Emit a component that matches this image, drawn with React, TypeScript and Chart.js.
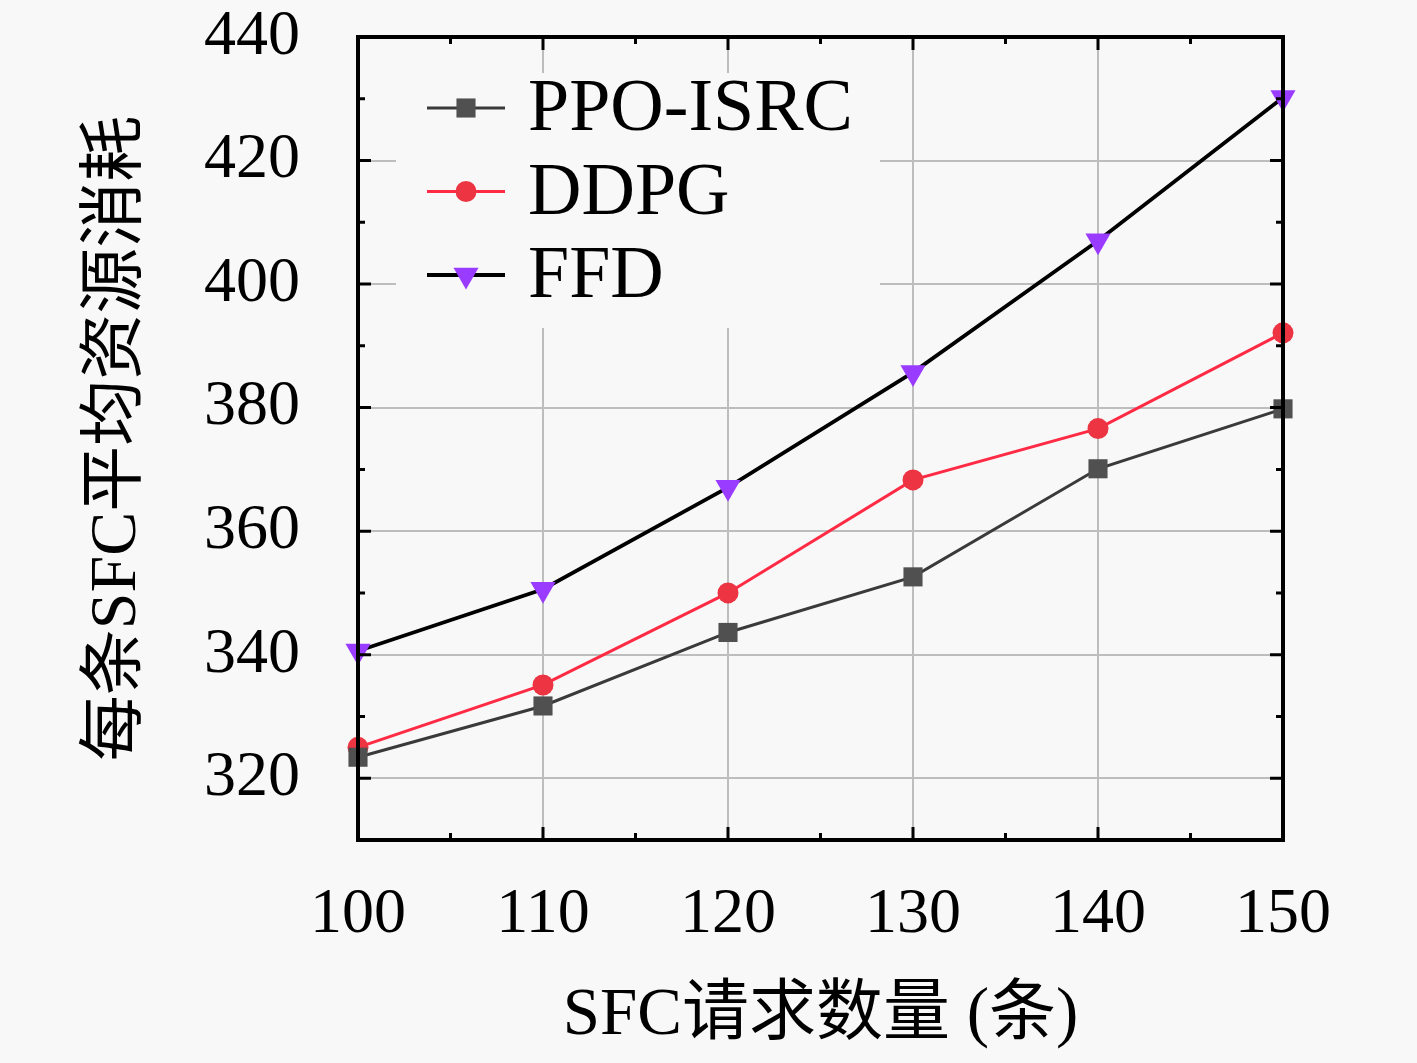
import React, { useEffect, useRef } from "react";
import { Chart, registerables } from "chart.js";

Chart.register(...registerables);

const categories = [100, 110, 120, 130, 140, 150];
const ppoIsrc = [323.4, 331.7, 343.6, 352.6, 370.1, 379.8];
const ddpg = [325.0, 335.1, 350.0, 368.3, 376.6, 392.1];
const ffd = [340.6, 350.6, 367.1, 385.7, 407.0, 430.2];
const yTickValues = [320, 340, 360, 380, 400, 420, 440];
const xTickValues = [100, 110, 120, 130, 140, 150];
const seriesNames = ["PPO-ISRC", "DDPG", "FFD"];

const BG = "#f8f8f8";
const SERIF = '"Liberation Serif", "Noto Sans CJK SC", serif';

type Style = { line: string; marker: string; shape: "rect" | "circle" | "triDown"; lw: number; r: number };
const styles: Style[] = [
  { line: "#3a3a3a", marker: "#505050", shape: "rect", lw: 3, r: 13.5 },
  { line: "#ff2a44", marker: "#ec3442", shape: "circle", lw: 3, r: 10.5 },
  { line: "#000000", marker: "#9a3cff", shape: "triDown", lw: 3.8, r: 14.5 },
];

function drawMarker(ctx: CanvasRenderingContext2D, s: Style, x: number, y: number) {
  ctx.save();
  ctx.fillStyle = s.marker;
  ctx.beginPath();
  if (s.shape === "rect") {
    const h = s.r * Math.SQRT1_2;
    ctx.rect(x - h, y - h, 2 * h, 2 * h);
  } else if (s.shape === "circle") {
    ctx.arc(x, y, s.r, 0, Math.PI * 2);
  } else {
    const w = s.r * Math.sqrt(3) / 2;
    ctx.moveTo(x - w, y - s.r / 2);
    ctx.lineTo(x + w, y - s.r / 2);
    ctx.lineTo(x, y + s.r);
    ctx.closePath();
  }
  ctx.fill();
  ctx.restore();
}

const framePlugin = {
  id: "frameTicksLegend",
  afterDatasetsDraw(chart: any) {
    const ctx: CanvasRenderingContext2D = chart.ctx;
    const { left, right, top, bottom } = chart.chartArea;
    const xs = chart.scales.x;
    const ys = chart.scales.y;
    ctx.save();
    ctx.strokeStyle = "#000";
    ctx.lineWidth = 3;
    const major = 13;
    const minor = 7;
    for (let i = 0; i < xTickValues.length; i++) {
      const v = xTickValues[i];
      const px = xs.getPixelForValue(v);
      ctx.beginPath();
      ctx.moveTo(px, bottom); ctx.lineTo(px, bottom - major);
      ctx.moveTo(px, top); ctx.lineTo(px, top + major);
      ctx.stroke();
      if (i < xTickValues.length - 1) {
        const m = xs.getPixelForValue((v + xTickValues[i + 1]) / 2);
        ctx.beginPath();
        ctx.moveTo(m, bottom); ctx.lineTo(m, bottom - minor);
        ctx.moveTo(m, top); ctx.lineTo(m, top + minor);
        ctx.stroke();
      }
    }
    for (let i = 0; i < yTickValues.length; i++) {
      const v = yTickValues[i];
      const py = ys.getPixelForValue(v);
      ctx.beginPath();
      ctx.moveTo(left, py); ctx.lineTo(left + major, py);
      ctx.moveTo(right, py); ctx.lineTo(right - major, py);
      ctx.stroke();
      if (i < yTickValues.length - 1) {
        const m = ys.getPixelForValue((v + yTickValues[i + 1]) / 2);
        ctx.beginPath();
        ctx.moveTo(left, m); ctx.lineTo(left + minor, m);
        ctx.moveTo(right, m); ctx.lineTo(right - minor, m);
        ctx.stroke();
      }
    }
    ctx.lineWidth = 4;
    ctx.strokeRect(left, top, right - left, bottom - top);

    // legend
    const bx = left + 38;
    const by = top + 36;
    ctx.fillStyle = BG;
    ctx.fillRect(bx, by, 484, 255);
    const rowY0 = top + 71;
    const rowGap = 83.5;
    ctx.font = "74px " + SERIF;
    ctx.textBaseline = "middle";
    ctx.textAlign = "left";
    for (let i = 0; i < seriesNames.length; i++) {
      const s = styles[i];
      const y = rowY0 + i * rowGap;
      ctx.strokeStyle = s.line;
      ctx.lineWidth = s.lw;
      ctx.beginPath();
      ctx.moveTo(left + 69, y);
      ctx.lineTo(left + 147, y);
      ctx.stroke();
      drawMarker(ctx, s, left + 108, y);
      ctx.fillStyle = "#000";
      ctx.fillText(seriesNames[i], left + 170, y + 3);
    }
    ctx.restore();
  },
};

export default function App() {
  const ref = useRef<HTMLCanvasElement | null>(null);
  useEffect(() => {
    document.body.style.margin = "0";
    document.body.style.background = BG;
    const canvas = ref.current;
    if (!canvas) return;
    const seriesData = [ppoIsrc, ddpg, ffd];
    const chart = new Chart(canvas, {
      type: "line",
      data: {
        datasets: seriesData.map((arr, i) => ({
          label: seriesNames[i],
          data: categories.map((c, j) => ({ x: c, y: arr[j] })),
          borderColor: styles[i].line,
          borderWidth: styles[i].lw,
          backgroundColor: styles[i].marker,
          pointBackgroundColor: styles[i].marker,
          pointBorderColor: styles[i].marker,
          pointBorderWidth: 0,
          pointStyle: styles[i].shape === "triDown" ? "triangle" : styles[i].shape,
          pointRotation: styles[i].shape === "triDown" ? 180 : 0,
          pointRadius: styles[i].r,
          tension: 0,
          fill: false,
          clip: false as any,
        })),
      },
      options: {
        animation: false,
        responsive: false,
        devicePixelRatio: 1,
        layout: { padding: { top: 37, right: 134, left: 0, bottom: 0 } },
        plugins: { legend: { display: false }, tooltip: { enabled: false } },
        scales: {
          x: {
            type: "linear",
            min: 100,
            max: 150,
            afterFit: (s: any) => { s.height = 223; s.paddingLeft = 0; s.paddingRight = 0; },
            afterBuildTicks: (s: any) => { s.ticks = xTickValues.map((v) => ({ value: v })); },
            ticks: {
              color: "#000",
              font: { family: SERIF, size: 64 },
              padding: 37,
              maxRotation: 0,
              autoSkip: false,
            },
            grid: { color: "#bdbdbd", lineWidth: 2, drawTicks: false },
            border: { display: false },
            title: {
              display: true,
              text: "SFC请求数量 (条)",
              color: "#000",
              font: { family: SERIF, size: 67 },
              padding: { top: 0, bottom: 6 },
            },
          },
          y: {
            type: "linear",
            min: 310,
            max: 440,
            afterFit: (s: any) => { s.width = 358; s.paddingTop = 0; s.paddingBottom = 0; },
            afterBuildTicks: (s: any) => { s.ticks = yTickValues.map((v) => ({ value: v })); },
            ticks: {
              color: "#000",
              font: { family: SERIF, size: 64 },
              padding: 58,
              autoSkip: false,
            },
            grid: { color: "#bdbdbd", lineWidth: 2, drawTicks: false },
            border: { display: false },
            title: {
              display: true,
              text: "每条SFC平均资源消耗",
              color: "#000",
              font: { family: SERIF, size: 66 },
              padding: { top: 78, bottom: 0 },
            },
          },
        },
      },
      plugins: [framePlugin],
    });
    return () => chart.destroy();
  }, []);
  return (
    <div style={{ width: 1417, height: 1063, background: BG }}>
      <canvas ref={ref} width={1417} height={1063} style={{ display: "block", width: 1417, height: 1063 }} />
    </div>
  );
}
